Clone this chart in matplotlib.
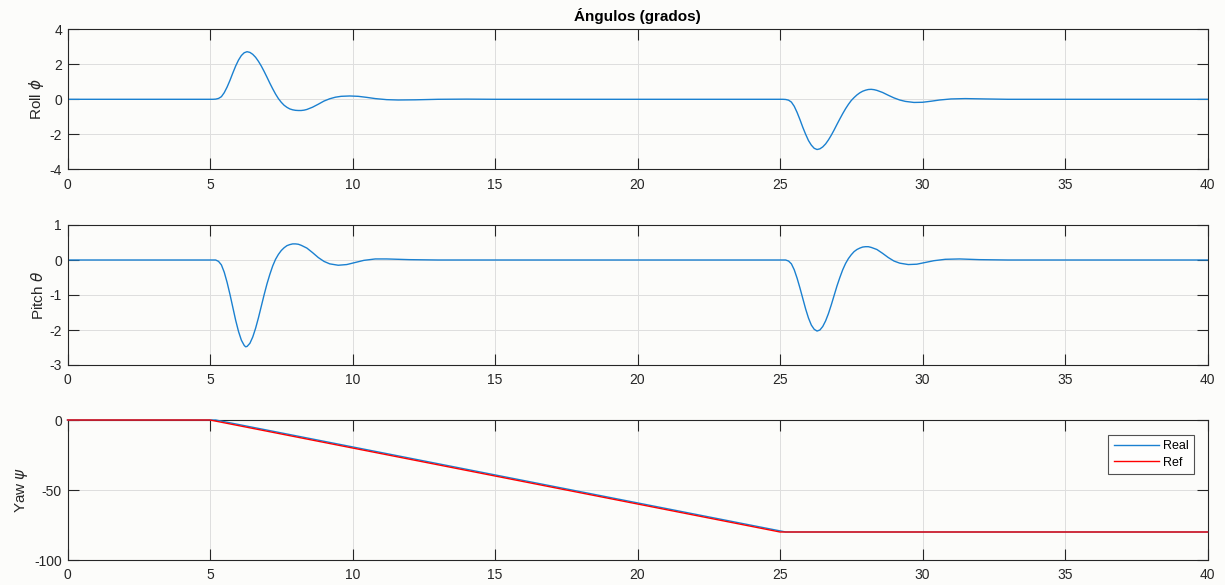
import matplotlib
matplotlib.use("Agg")
import matplotlib.pyplot as plt

# ---------------- data ----------------
roll_t = [0, 5.1, 5.2, 5.3, 5.4, 5.5, 5.6, 5.7, 5.8, 5.9, 6.0, 6.1, 6.2, 6.3, 6.4, 6.5, 6.6,
          6.7, 6.8, 6.9, 7.0, 7.1, 7.2, 7.3, 7.4, 7.5, 7.6, 7.7, 7.8, 7.9, 8.0, 8.1, 8.2, 8.3,
          8.4, 8.6, 8.8, 9.0, 9.2, 9.4, 9.6, 9.9, 10.2, 10.5, 10.8, 11.2, 11.6,
          12.2, 13.0, 14.0, 15.0,
          25.1, 25.2, 25.3, 25.4, 25.5, 25.6, 25.7, 25.8, 25.9, 26.0, 26.1, 26.2, 26.3, 26.4,
          26.5, 26.6, 26.7, 26.8, 26.9, 27.0, 27.1, 27.2, 27.3, 27.4, 27.5, 27.6, 27.7, 27.8,
          27.9, 28.0, 28.1, 28.2, 28.3, 28.4, 28.6, 28.8, 29.0, 29.2, 29.4, 29.7, 30.0, 30.3,
          30.6, 31.0, 31.5, 32.2, 33.0, 40.0]
roll_v = [0, 0, 0.01, 0.05, 0.15, 0.38, 0.7, 1.08, 1.5, 1.9, 2.24, 2.5, 2.66, 2.72, 2.68, 2.57, 2.4,
          2.17, 1.9, 1.59, 1.26, 0.92, 0.6, 0.3, 0.04, -0.17, -0.34, -0.46, -0.55, -0.6, -0.63, -0.64, -0.64, -0.62,
          -0.58, -0.45, -0.28, -0.1, 0.03, 0.12, 0.17, 0.19, 0.17, 0.11, 0.04, -0.02, -0.04,
          -0.03, 0.0, 0.01, 0.0,
          0.0, -0.01, -0.05, -0.16, -0.4, -0.75, -1.16, -1.6, -2.0, -2.36, -2.62, -2.8, -2.87, -2.83,
          -2.72, -2.55, -2.32, -2.05, -1.75, -1.43, -1.12, -0.82, -0.54, -0.29, -0.07, 0.1, 0.25, 0.37,
          0.46, 0.52, 0.56, 0.57, 0.55, 0.51, 0.39, 0.23, 0.08, -0.04, -0.12, -0.18, -0.17, -0.11,
          -0.04, 0.02, 0.04, 0.02, 0.0, 0.0]

pitch_t = [0, 5.2, 5.3, 5.4, 5.5, 5.6, 5.7, 5.8, 5.9, 6.0, 6.1, 6.2, 6.25, 6.3, 6.4, 6.5, 6.6,
           6.7, 6.8, 6.9, 7.0, 7.1, 7.2, 7.3, 7.4, 7.5, 7.6, 7.7, 7.8, 7.9, 8.0, 8.1, 8.2,
           8.4, 8.6, 8.8, 9.0, 9.2, 9.5, 9.8, 10.1, 10.4, 10.8, 11.2, 12.0, 13.0,
           25.2, 25.3, 25.4, 25.5, 25.6, 25.7, 25.8, 25.9, 26.0, 26.1, 26.2, 26.3, 26.4, 26.5,
           26.6, 26.7, 26.8, 26.9, 27.0, 27.1, 27.2, 27.3, 27.4, 27.5, 27.6, 27.7, 27.8, 27.9,
           28.0, 28.1, 28.2, 28.4, 28.6, 28.8, 29.0, 29.2, 29.5, 29.8, 30.1, 30.4, 30.8, 31.3,
           32.0, 33.0, 40.0]
pitch_v = [0, 0, -0.04, -0.14, -0.35, -0.64, -0.98, -1.35, -1.72, -2.04, -2.29, -2.44, -2.48, -2.47, -2.38, -2.2, -1.95,
           -1.65, -1.32, -0.99, -0.68, -0.41, -0.17, 0.02, 0.16, 0.27, 0.35, 0.41, 0.44, 0.46, 0.46, 0.45, 0.42,
           0.34, 0.21, 0.07, -0.04, -0.11, -0.15, -0.13, -0.07, -0.01, 0.03, 0.03, 0.01, 0.0,
           0.0, -0.03, -0.11, -0.28, -0.52, -0.8, -1.1, -1.4, -1.66, -1.86, -1.98, -2.03, -2.0, -1.9,
           -1.74, -1.53, -1.28, -1.01, -0.74, -0.5, -0.28, -0.1, 0.04, 0.15, 0.24, 0.3, 0.34, 0.37,
           0.38, 0.38, 0.36, 0.3, 0.19, 0.07, -0.03, -0.09, -0.13, -0.12, -0.07, -0.02, 0.02, 0.03,
           0.01, 0.0, 0.0]

yaw_real_t = [0, 5.2, 25.2, 40]
yaw_real_v = [0, 0, -80, -80]
yaw_ref_t = [0, 5.0, 25.0, 40]
yaw_ref_v = [0, 0, -80, -80]

x_ticks = [0, 5, 10, 15, 20, 25, 30, 35, 40]
roll_ticks = [-4, -2, 0, 2, 4]
pitch_ticks = [-3, -2, -1, 0, 1]
yaw_ticks = [-100, -50, 0]

title = "Ángulos (grados)"
labels = ["Roll $\\phi$", "Pitch $\\theta$", "Yaw $\\psi$"]
legend_labels = ["Real", "Ref"]

# ---------------- style ----------------
BLUE = "#1a80d0"
RED = "#FF0000"
BG = "#fcfcfa"
AXC = "#262626"

plt.rcParams["font.family"] = ["Liberation Sans", "DejaVu Sans"]
plt.rcParams["mathtext.fontset"] = "dejavusans"
plt.rcParams["axes.unicode_minus"] = False

fig = plt.figure(figsize=(12.25, 5.85), dpi=100, facecolor=BG)

left = 67.5 / 1225
width = 1140 / 1225
h = 140 / 585
bottoms = [1 - 169.3 / 585, 1 - 365 / 585, 1 - 560 / 585]

axes = [fig.add_axes([left, b, width, h]) for b in bottoms]

def style(ax, yticks, ylim):
    ax.set_facecolor(BG)
    ax.set_xlim(0, 40)
    ax.set_ylim(*ylim)
    ax.set_xticks(x_ticks)
    ax.set_yticks(yticks)
    ax.tick_params(direction="in", length=8, width=0.8, colors=AXC,
                   top=True, right=True, labelsize=10, pad=4)
    ax.tick_params(axis="x", pad=6)
    for s in ax.spines.values():
        s.set_color(AXC)
        s.set_linewidth(0.8)
    ax.grid(True, color="#dedede", linewidth=0.7)
    ax.set_axisbelow(True)

ax1, ax2, ax3 = axes
ax1.plot(roll_t, roll_v, color=BLUE, lw=1.0)
style(ax1, roll_ticks, (-4, 4))
ax1.set_title(title, fontsize=11, fontweight="bold", color="#000000", pad=6)

ax2.plot(pitch_t, pitch_v, color=BLUE, lw=1.0)
style(ax2, pitch_ticks, (-3, 1))

ax3.plot(yaw_real_t, yaw_real_v, color=BLUE, lw=1.0, label=legend_labels[0],
         zorder=3, clip_on=False)
ax3.plot(yaw_ref_t, yaw_ref_v, color=RED, lw=1.0, label=legend_labels[1],
         zorder=3.1, clip_on=False)
style(ax3, yaw_ticks, (-100, 0))
leg = ax3.legend(loc="upper right", bbox_to_anchor=(0.9882, 0.8955), borderaxespad=0,
                 fontsize=9, frameon=True, fancybox=False, edgecolor=AXC, facecolor="white",
                 handlelength=3.6, handletextpad=0.3, borderpad=0.45, labelspacing=0.35)
leg.get_frame().set_linewidth(0.8)

for ax, lab in zip(axes, labels):
    ax.set_ylabel(lab, fontsize=11, color=AXC)
ax1.yaxis.set_label_coords(-0.019, 0.5)
ax2.yaxis.set_label_coords(-0.019, 0.5)
ax3.yaxis.set_label_coords(-0.033, 0.5)

fig.savefig("out.png", dpi=100, facecolor=BG)
